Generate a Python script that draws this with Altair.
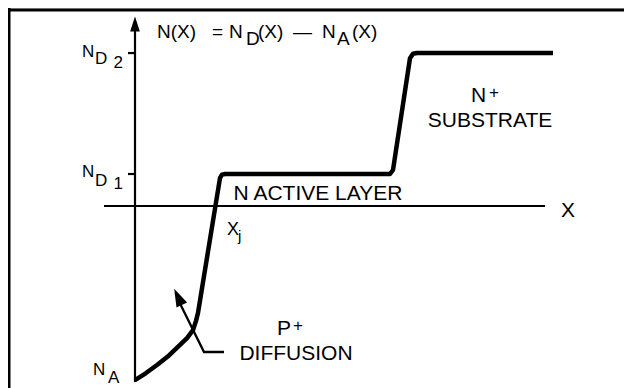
import altair as alt
import pandas as pd

# ---- doping profile N(X) = ND(X) - NA(X) (depth units, doping units with ND1 = 1) ----
depth = [0.0, 1.1, 2.2, 3.4, 4.5, 5.2, 5.8, 6.1, 6.3, 8.5, 8.7, 9.0, 25.5, 25.8, 27.5, 27.8, 28.2, 41.8]
net_doping = [-5.44, -5.22, -4.97, -4.67, -4.34, -4.13, -3.88, -3.59, -3.34, 0.875, 0.98, 1.0, 1.0, 1.125, 4.62, 4.76, 4.78, 4.78]

ND1 = 1.0
ND2 = 4.78
W, H = 616, 380
X_MIN, X_MAX = -12.7, 48.9
Y_MIN, Y_MAX = -5.6875, 6.1875

# axis segments: x, y, x2, y2
seg_x = [0.0, -3.1, -0.7, -0.7]
seg_y = [-5.5, 0.0, ND1, ND2]
seg_x2 = [0.0, 41.0, 0.0, 0.0]
seg_y2 = [5.5, 0.0, ND1, ND2]

# leader for "P+ DIFFUSION"
leader_x = [8.9, 6.9, 4.5]
leader_y = [-4.5625, -4.5625, -3.05]

# arrowheads
head_x = [0.0, 4.3]
head_y = [5.69, -2.84]
head_angle = [0, 335]
head_size = [225, 324]

# text pieces
txt = ["N(X)", "=", "N", "D", "(X)", "\u2014", "N", "A", "(X)",
       "N", "D", "N", "D", "N", "A",
       "N", "+", "P", "+", "X", "j", "X"]
txt_x = [2.2, 7.7, 9.4, 11.1, 12.3, 15.8, 18.7, 20.2, 21.7,
         -5.3, -4.0, -5.3, -4.0, -4.2, -2.7,
         33.6, 35.4, 14.2, 15.8, 9.2, 10.3, 42.6]
txt_y = [5.25, 5.25, 5.25, 5.03, 5.25, 5.25, 5.25, 5.03, 5.25,
         4.66, 4.44, 0.906, 0.625, -5.28, -5.53,
         3.25, 3.37, -4.03, -3.92, -0.906, -1.09, -0.344]
txt_size = [19, 19, 19, 19, 19, 19, 19, 19, 19,
            17, 17, 17, 17, 17, 17,
            21, 17, 21, 17, 18, 15, 21]

digits = ["2", "1"]
digit_x = [-1.2, -1.2]
digit_y = [4.31, 0.53]

center_txt = ["N ACTIVE LAYER", "SUBSTRATE", "DIFFUSION"]
center_x = [18.3, 35.5, 16.1]
center_y = [0.19, 2.47, -4.81]

FONT = "Liberation Sans"

xs = alt.Scale(domain=[X_MIN, X_MAX], nice=False, zero=False)
ys = alt.Scale(domain=[Y_MIN, Y_MAX], nice=False, zero=False)

def X(f="x"):
    return alt.X(f + ":Q", scale=xs, axis=None)

def Y(f="y"):
    return alt.Y(f + ":Q", scale=ys, axis=None)

profile_df = pd.DataFrame({"x": depth, "y": net_doping, "i": range(len(depth))})
seg_df = pd.DataFrame({"x": seg_x, "y": seg_y, "x2": seg_x2, "y2": seg_y2})
leader_df = pd.DataFrame({"x": leader_x, "y": leader_y, "i": range(len(leader_x))})
head_df = pd.DataFrame({"x": head_x, "y": head_y, "a": head_angle, "s": head_size})
txt_df = pd.DataFrame({"x": txt_x, "y": txt_y, "t": txt, "s": txt_size})
dig_df = pd.DataFrame({"x": digit_x, "y": digit_y, "t": digits})
ctr_df = pd.DataFrame({"x": center_x, "y": center_y, "t": center_txt})

frame_top = alt.Chart(alt.Data(values=[{"k": 1}])).mark_rule(color="black", strokeWidth=3).encode(
    x=alt.value(0), x2=alt.value(W), y=alt.value(2))
frame_left = alt.Chart(alt.Data(values=[{"k": 1}])).mark_rule(color="black", strokeWidth=3).encode(
    x=alt.value(1), y=alt.value(0), y2=alt.value(H))

axes = alt.Chart(seg_df).mark_rule(color="black", strokeWidth=2.2).encode(
    x=X(), y=Y(), x2="x2:Q", y2="y2:Q")

profile = alt.Chart(profile_df).mark_line(color="black", strokeWidth=4.5, strokeJoin="round").encode(
    x=X(), y=Y(), order="i:Q")

leader = alt.Chart(leader_df).mark_line(color="black", strokeWidth=2.3, strokeJoin="miter").encode(
    x=X(), y=Y(), order="i:Q")

heads = alt.Chart(head_df).mark_point(
    shape="M0,-1L0.65,1L-0.65,1Z", filled=True, color="black", opacity=1, strokeWidth=0).encode(
    x=X(), y=Y(), angle=alt.Angle("a:Q", scale=None), size=alt.Size("s:Q", scale=None))

texts = alt.Chart(txt_df).mark_text(align="left", baseline="alphabetic", font=FONT, color="black").encode(
    x=X(), y=Y(), text="t:N", size=alt.Size("s:Q", scale=None))

dig = alt.Chart(dig_df).mark_text(align="right", baseline="alphabetic", font=FONT, color="black", fontSize=17).encode(
    x=X(), y=Y(), text="t:N")

ctr = alt.Chart(ctr_df).mark_text(align="center", baseline="alphabetic", font=FONT, color="black", fontSize=21).encode(
    x=X(), y=Y(), text="t:N")

chart = alt.layer(frame_top, frame_left, axes, profile, leader, heads, texts, dig, ctr).properties(
    width=W, height=H, autosize=alt.AutoSizeParams(type="none"), padding=0
).configure_view(stroke=None).configure(background="white")

chart.save("out.html", embed_options={"renderer": "svg", "actions": False})
